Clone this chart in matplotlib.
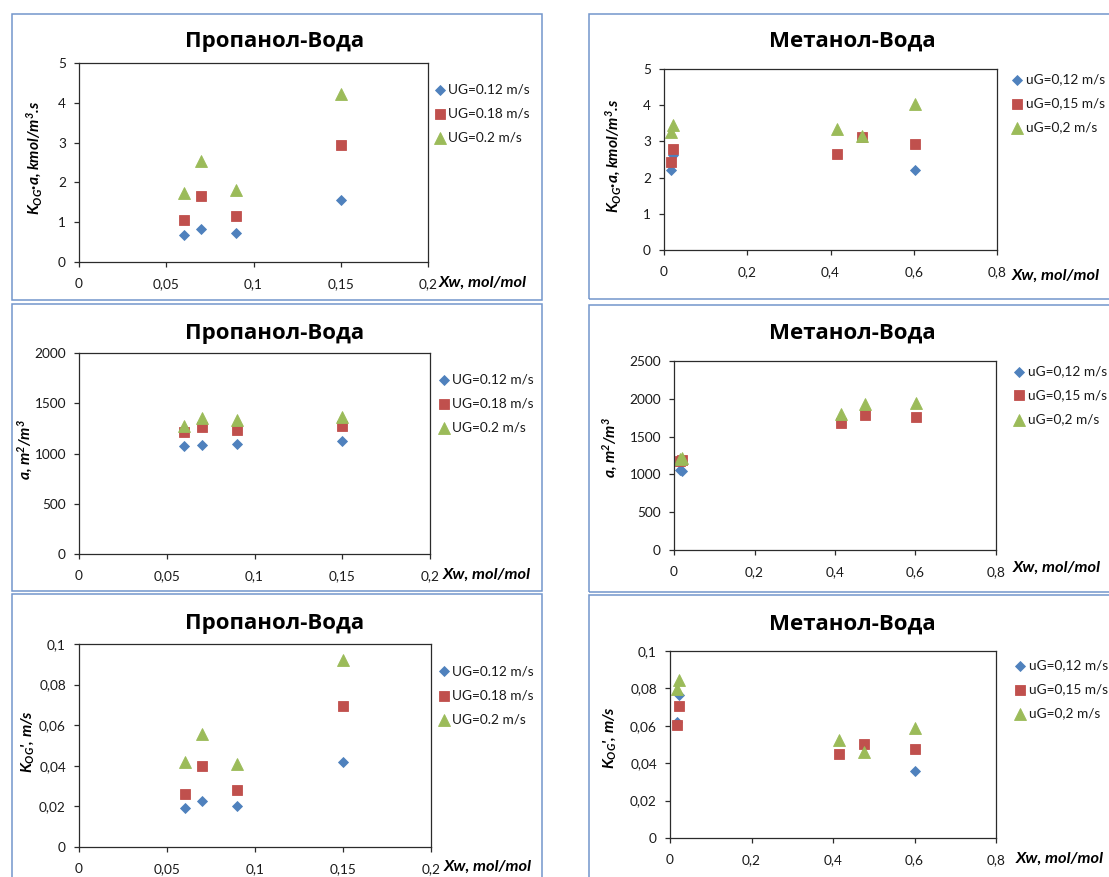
import matplotlib
matplotlib.use("Agg")
import matplotlib.pyplot as plt
from matplotlib.lines import Line2D
from matplotlib.patches import Rectangle

# ---------------- data ----------------
prop_x = [0.06, 0.07, 0.09, 0.15]
prop_kga_012 = [0.68, 0.82, 0.74, 1.56]
prop_kga_018 = [1.05, 1.65, 1.15, 2.95]
prop_kga_020 = [1.74, 2.53, 1.81, 4.22]
prop_a_012 = [1070, 1080, 1090, 1125]
prop_a_018 = [1210, 1260, 1235, 1275]
prop_a_020 = [1270, 1355, 1335, 1365]
prop_k_012 = [0.0194, 0.0228, 0.0200, 0.0417]
prop_k_018 = [0.0261, 0.0397, 0.0282, 0.0695]
prop_k_020 = [0.0417, 0.0558, 0.0407, 0.0921]

meth_x = [0.016, 0.021, 0.415, 0.475, 0.602]
meth_x_012 = [0.016, 0.021, 0.602]
meth_x_a_012 = [0.016, 0.021]
meth_kga_012 = [2.20, 2.62, 2.21]
meth_kga_015 = [2.42, 2.78, 2.64, 3.13, 2.94]
meth_kga_020 = [3.27, 3.45, 3.34, 3.16, 4.04]
meth_a_012 = [1060, 1040]
meth_a_015 = [1175, 1185, 1686, 1787, 1761]
meth_a_020 = [1210, 1222, 1800, 1928, 1945]
meth_k_012 = [0.0620, 0.0765, 0.0358]
meth_k_015 = [0.0606, 0.0706, 0.0447, 0.0501, 0.0476]
meth_k_020 = [0.0799, 0.0845, 0.0522, 0.0462, 0.0588]

prop_labels = ["UG=0.12 m/s", "UG=0.18 m/s", "UG=0.2 m/s"]
meth_labels = ["uG=0,12 m/s", "uG=0,15 m/s", "uG=0,2 m/s"]

prop_xticks = [0, 0.05, 0.1, 0.15, 0.2]
prop_xticklabels = ["0", "0,05", "0,1", "0,15", "0,2"]
meth_xticks = [0, 0.2, 0.4, 0.6, 0.8]
meth_xticklabels = ["0", "0,2", "0,4", "0,6", "0,8"]
kga_yticks = [0, 1, 2, 3, 4, 5]
kga_yticklabels = ["0", "1", "2", "3", "4", "5"]
prop_a_yticks = [0, 500, 1000, 1500, 2000]
meth_a_yticks = [0, 500, 1000, 1500, 2000, 2500]
k_yticks = [0, 0.02, 0.04, 0.06, 0.08, 0.1]
k_yticklabels = ["0", "0,02", "0,04", "0,06", "0,08", "0,1"]

# ---------------- style ----------------
W, H, DPI = 1109, 877, 100
plt.rcParams["font.family"] = ["Lato", "Open Sans", "DejaVu Sans"]
plt.rcParams["mathtext.fontset"] = "custom"
plt.rcParams["mathtext.rm"] = "Lato:bold:italic"
plt.rcParams["mathtext.it"] = "Lato:bold:italic"
plt.rcParams["mathtext.bf"] = "Lato:bold:italic"

BLUE, RED, GREEN = "#4F81BD", "#C0504D", "#9BBB59"
BORDER = "#7396CC"
TXT = "#1a1a1a"
MARKERS = [("D", 4.8, BLUE), ("s", 7.2, RED), ("^", 8.0, GREEN)]

fig = plt.figure(figsize=(W / DPI, H / DPI), dpi=DPI)


def fx(x):
    return x / W


def fy(y):
    return 1 - y / H


def panel(border, box, title, title_xy, series, labels, leg, xticks, xticklabels,
          xlim, yticks, yticklabels, ylim, ylabel, ylabel_xy, xlabel_xy):
    bl, bt, br, bb = border
    fig.add_artist(Rectangle((fx(bl), fy(bb)), fx(br - bl), (bb - bt) / H,
                             transform=fig.transFigure, fill=False,
                             ec=BORDER, lw=1.1))
    l, t, r, b = box
    ax = fig.add_axes([fx(l), fy(b), fx(r - l), (b - t) / H])
    for (xs, ys), (mk, ms, col) in zip(series, MARKERS):
        ax.plot(xs, ys, ls="none", marker=mk, ms=ms, color=col, mec=col,
                mew=0.6, clip_on=False)
    ax.set_xlim(*xlim)
    ax.set_ylim(*ylim)
    ax.set_xticks(xticks)
    ax.set_xticklabels(xticklabels)
    ax.set_yticks(yticks)
    ax.set_yticklabels(yticklabels)
    for s in ax.spines.values():
        s.set_color("#2b2b2b")
        s.set_linewidth(0.9)
    ax.tick_params(direction="out", length=3.4, width=0.9, color="#2b2b2b",
                   labelsize=9.8, labelcolor=TXT, pad=6)
    ax.tick_params(axis="x", pad=8)
    fig.text(fx(title_xy[0]), fy(title_xy[1]), title, ha="center", va="center",
             fontsize=16, fontweight="bold", family=["Open Sans", "DejaVu Sans"],
             color="black")
    fig.text(fx(ylabel_xy[0]), fy(ylabel_xy[1]), ylabel, rotation=90,
             ha="center", va="center", fontsize=11.2, fontweight="bold",
             style="italic", color="black")
    fig.text(fx(xlabel_xy[0]), fy(xlabel_xy[1]), "Xw, mol/mol", ha="left",
             va="center", fontsize=11.8, fontweight="bold", style="italic",
             color="black")
    mx, tx, ys0 = leg
    for (mk, ms, col), lab, yy in zip(MARKERS, labels, ys0):
        fig.add_artist(Line2D([fx(mx)], [fy(yy)], transform=fig.transFigure,
                              ls="none", marker=mk, ms=ms, color=col, mec=col,
                              mew=0.6))
        fig.text(fx(tx), fy(yy), lab, ha="left", va="center", fontsize=9.8,
                 color=TXT)
    return ax


KGA_LABEL = r"$K_{OG}$·a, kmol/m$^3$.s"
A_LABEL = r"a, m$^2$/m$^3$"
K_LABEL = r"$K_{OG}$', m/s"

# left column: propanol-water
panel((11.7, 14, 541.7, 300), (79, 63, 428, 262), "Пропанол-Вода", (275, 42),
      [(prop_x, prop_kga_012), (prop_x, prop_kga_018), (prop_x, prop_kga_020)],
      prop_labels, (440, 448, [89.5, 113.5, 137.5]),
      prop_xticks, prop_xticklabels, (0, 0.2), kga_yticks, kga_yticklabels, (0, 5),
      KGA_LABEL, (34, 158), (439, 283))

panel((11.7, 304.3, 541.7, 590.7), (79, 353, 430, 554), "Пропанол-Вода", (275, 333),
      [(prop_x, prop_a_012), (prop_x, prop_a_018), (prop_x, prop_a_020)],
      prop_labels, (444, 452, [379.5, 403.5, 427.5]),
      prop_xticks, prop_xticklabels, (0, 0.2), prop_a_yticks,
      [str(v) for v in prop_a_yticks], (0, 2000),
      A_LABEL, (25, 449), (443, 575))

panel((11.7, 594.3, 541.7, 885), (79, 644, 431, 847), "Пропанол-Вода", (275, 624),
      [(prop_x, prop_k_012), (prop_x, prop_k_018), (prop_x, prop_k_020)],
      prop_labels, (444, 452, [671, 695.5, 719.5]),
      prop_xticks, prop_xticklabels, (0, 0.2), k_yticks, k_yticklabels, (0, 0.1),
      K_LABEL, (28, 741), (444, 867))

# right column: methanol-water
panel((588.7, 14, 1115, 299.3), (664, 69, 997, 250), "Метанол-Вода", (852, 41),
      [(meth_x_012, meth_kga_012), (meth_x, meth_kga_015), (meth_x, meth_kga_020)],
      meth_labels, (1017, 1026, [79.5, 103.5, 127.5]),
      meth_xticks, meth_xticklabels, (0, 0.8), kga_yticks, kga_yticklabels, (0, 5),
      KGA_LABEL, (613, 156), (1012, 276))

panel((588.7, 305, 1115, 592), (674, 361, 996, 550), "Метанол-Вода", (852, 333),
      [(meth_x_a_012, meth_a_012), (meth_x, meth_a_015), (meth_x, meth_a_020)],
      meth_labels, (1019, 1028, [371.5, 395.5, 419.5]),
      meth_xticks, meth_xticklabels, (0, 0.8), meth_a_yticks,
      [str(v) for v in meth_a_yticks], (0, 2500),
      A_LABEL, (610, 447), (1013, 568))

panel((588.7, 595.3, 1115, 885), (670, 651, 996, 838), "Метанол-Вода", (852, 624),
      [(meth_x_012, meth_k_012), (meth_x, meth_k_015), (meth_x, meth_k_020)],
      meth_labels, (1020, 1029, [665.5, 689.5, 713.5]),
      meth_xticks, meth_xticklabels, (0, 0.8), k_yticks, k_yticklabels, (0, 0.1),
      K_LABEL, (610, 737), (1016, 859))

fig.savefig("out.png", dpi=DPI, facecolor="white")
